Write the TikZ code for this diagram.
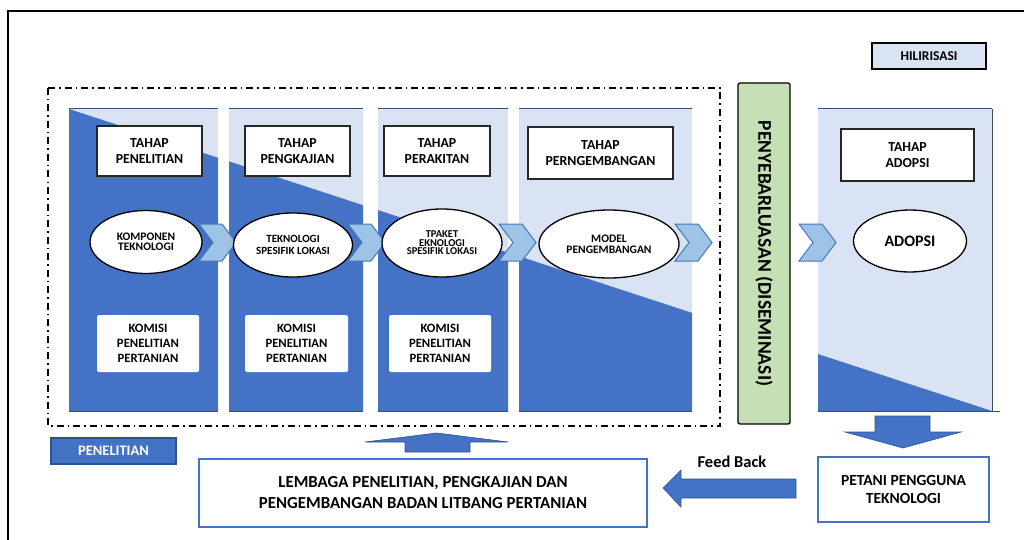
\documentclass[tikz,border=0pt]{standalone}
\usepackage{fontspec}
\setmainfont{Carlito}
\usetikzlibrary{shapes.geometric}

\definecolor{dkblue}{HTML}{4472C4}
\definecolor{ltblue}{HTML}{DAE3F3}
\definecolor{chevfill}{HTML}{9DC3E6}
\definecolor{chevline}{HTML}{4A76B8}
\definecolor{dissgreen}{HTML}{C5E0B4}
\definecolor{navyline}{HTML}{2F528F}
\definecolor{panelline}{HTML}{3A4F6E}

\tikzset{
	tahap/.style={draw=black!85, line width=1.3pt, fill=white, align=center, inner sep=0pt, font=\bfseries\fontsize{13.8}{16}\selectfont},
	hasil/.style={ellipse, draw=black, line width=1.3pt, fill=white, align=center, inner sep=0pt},
	komisi/.style={fill=white, rounded corners=1.5pt, align=center, inner sep=0pt, font=\bfseries\fontsize{12.7}{15}\selectfont},
	lembaga/.style={draw=dkblue, line width=1.1pt, fill=white, align=center, inner sep=0pt, font=\bfseries\fontsize{16.8}{21}\selectfont},
	label/.style={draw=black, line width=1.3pt, inner sep=0pt, font=\bfseries\fontsize{13.5}{15}\selectfont},
	blokpanah/.style={fill=dkblue, draw=navyline, line width=0.6pt},
}

\begin{document}
\begin{tikzpicture}[x=1pt, y=-1pt]
		\useasboundingbox (0,0) rectangle (1024,540);
		\draw[line width=1.4pt] (8,560) -- (8,11) -- (1040,11);

		\foreach \xa/\xb in {69/218, 229/363, 378/508, 519/692, 818/992} {
			\fill[ltblue] (\xa,109) rectangle (\xb,411);
			\begin{scope}
				\clip (\xa,109) rectangle (\xb,411);
				\fill[dkblue] (69,109) -- (992,411) -- (69,411) -- cycle;
			\end{scope}
			\draw[panelline, line width=1pt] (\xa,109) -- (\xb,109);
			\draw[panelline, line width=1pt] (\xa,411) -- (\xb,411);
		}
		\draw[panelline, line width=1pt] (992,109) -- (992,411) -- (1000,411);

		\draw[line width=1.5pt, dash pattern=on 7pt off 4pt on 1.5pt off 4pt] (48,88) rectangle (720,426);

		\foreach \cx in {199, 348, 499, 675, 799} {
			\fill[chevfill, draw=chevline, line width=1pt, line join=miter] (\cx,224) -- ++(23,0) -- ++(14,18.5) -- ++(-14,18.5) -- ++(-23,0) -- ++(14,-18.5) -- cycle;
		}

		\node[tahap, minimum width=105pt, minimum height=50pt] (t1) at (149.5,151) {TAHAP\\PENELITIAN};
		\node[tahap, minimum width=105pt, minimum height=50pt] (t2) at (297.5,151) {TAHAP\\PENGKAJIAN};
		\node[tahap, minimum width=106pt, minimum height=50pt] (t3) at (437,151) {TAHAP\\PERAKITAN};
		\node[tahap, minimum width=145pt, minimum height=52pt] (t4) at (600.5,153) {TAHAP\\PERNGEMBANGAN};
		\node[tahap, minimum width=133pt, minimum height=52pt] (t5) at (907.5,155) {TAHAP\\ADOPSI};

		\node[hasil, minimum width=112pt, minimum height=63pt, font=\bfseries\fontsize{11.5}{9.5}\selectfont] (e1) at (146,242) {KOMPONEN\\TEKNOLOGI};
		\node[hasil, minimum width=119pt, minimum height=64pt, font=\bfseries\fontsize{11}{12}\selectfont] (e2) at (293,245) {TEKNOLOGI\\SPESIFIK LOKASI};
		\node[hasil, minimum width=120pt, minimum height=68pt, font=\bfseries\fontsize{10.5}{8.5}\selectfont] (e3) at (442,243) {TPAKET\\EKNOLOGI\\SPESIFIK LOKASI};
		\node[hasil, minimum width=140pt, minimum height=68pt, font=\bfseries\fontsize{11.5}{11}\selectfont] (e4) at (609,244) {MODEL\\PENGEMBANGAN};
		\node[hasil, minimum width=113pt, minimum height=62pt, font=\bfseries\fontsize{16}{18}\selectfont] (e5) at (910,241) {ADOPSI};

		\node[komisi, minimum width=102pt, minimum height=57pt] (k1) at (148,343.5) {KOMISI\\PENELITIAN\\PERTANIAN};
		\node[komisi, minimum width=103pt, minimum height=57pt] (k2) at (296.5,343.5) {KOMISI\\PENELITIAN\\PERTANIAN};
		\node[komisi, minimum width=102pt, minimum height=57pt] (k3) at (440,343.5) {KOMISI\\PENELITIAN\\PERTANIAN};

		\node[draw=black, line width=1.3pt, fill=dissgreen, rounded corners=2pt, minimum width=52pt, minimum height=341pt, inner sep=0pt] (diss) at (764,253.5) {};
		\node[rotate=-90, font=\bfseries\fontsize{19.5}{22}\selectfont] (disstext) at (diss.center) {PENYEBARLUASAN (DISEMINASI)};

		\node[label, fill=ltblue, minimum width=114pt, minimum height=26pt] (hilir) at (929,56) {HILIRISASI};
		\node[label, fill=dkblue, draw=navyline, text=white, minimum width=125pt, minimum height=26pt, font=\bfseries\fontsize{14.5}{16}\selectfont] (penel) at (113.5,451) {PENELITIAN};

		\node[lembaga, minimum width=448pt, minimum height=68pt] (lemb) at (423,493) {LEMBAGA PENELITIAN, PENGKAJIAN DAN\\PENGEMBANGAN BADAN LITBANG PERTANIAN};
		\node[lembaga, minimum width=171pt, minimum height=65pt, font=\bfseries\fontsize{15.5}{18}\selectfont] (petani) at (903.5,489.5) {PETANI PENGGUNA\\TEKNOLOGI};
		\node[font=\bfseries\fontsize{16.5}{18}\selectfont] (fb) at (732,462) {Feed Back};

		\fill[blokpanah] (436.5,433) -- (508,442) -- (470,442) -- (470,452) -- (405,452) -- (405,442) -- (365,442) -- cycle;
		\fill[blokpanah] (663,488) -- (681,470) -- (681,479) -- (796,479) -- (796,498) -- (681,498) -- (681,507) -- cycle;
		\fill[blokpanah] (875,416) -- (930,416) -- (930,432) -- (961,432) -- (903,448) -- (845,432) -- (875,432) -- cycle;
	\end{tikzpicture}
\end{document}
